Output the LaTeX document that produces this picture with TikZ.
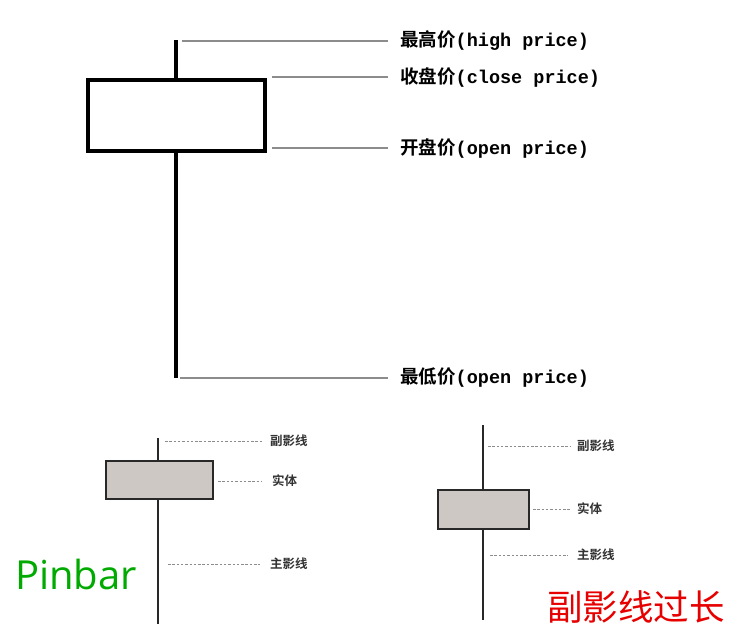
\documentclass[tikz,border=0pt]{standalone}
\usepackage{fontspec}
\newfontfamily\cjk{Noto Sans CJK SC}
\newfontfamily\cjkb{Noto Sans CJK SC Bold}
\newfontfamily\monof{Liberation Mono}
\newfontfamily\sansf{Open Sans}
\definecolor{leader}{RGB}{140,140,140}
\definecolor{bodyfill}{RGB}{205,200,196}
\definecolor{wick}{RGB}{40,40,40}
\definecolor{pingreen}{RGB}{0,170,0}
\definecolor{warnred}{RGB}{230,0,0}
\begin{document}
\begin{tikzpicture}[x=1pt,y=-1pt,
  bigwick/.style={line width=3.5pt,black},
  bigbody/.style={line width=3.5pt,black,fill=white},
  bigleader/.style={line width=2.5pt,leader},
  biglabel/.style={anchor=west,inner sep=0pt,font=\fontsize{18.5}{20}\selectfont},
  smallwick/.style={line width=2pt,wick},
  smallbody/.style={line width=1.8pt,wick,fill=bodyfill},
  dashleader/.style={line width=1pt,leader,dash pattern=on 2.5pt off 1.8pt},
  smalllabel/.style={anchor=west,inner sep=0pt,font=\cjkb\fontsize{12.5}{14}\selectfont,text=black!80}]
\useasboundingbox (0,0) rectangle (754,638);
% ---- top candlestick ----
\coordinate (hiT) at (176,40);
\coordinate (loT) at (176,378);
\draw[bigwick] (hiT) -- (loT);
\node[draw,bigbody,minimum width=177pt,minimum height=71pt,anchor=north west,inner sep=0pt] (bodyT) at (86,78) {};
\node[biglabel] (lhigh) at (400,41) {{\cjkb 最高价}{\monof\bfseries (high price)}};
\node[biglabel] (lclose) at (400,77) {{\cjkb 收盘价}{\monof\bfseries (close price)}};
\node[biglabel] (lopen) at (400,148) {{\cjkb 开盘价}{\monof\bfseries (open price)}};
\node[biglabel] (llow) at (400,378) {{\cjkb 最低价}{\monof\bfseries (open price)}};
\coordinate (chigh) at (182,41);
\coordinate (cclose) at (272,77);
\coordinate (copen) at (272,148);
\coordinate (clow) at (180,378);
\draw[bigleader] (chigh) -- (lhigh.west -| 388,0);
\draw[bigleader] (cclose) -- (lclose.west -| 388,0);
\draw[bigleader] (copen) -- (lopen.west -| 388,0);
\draw[bigleader] (clow) -- (llow.west -| 388,0);
% ---- bottom-left candlestick ----
\coordinate (hiL) at (158,438);
\coordinate (loL) at (158,624);
\draw[smallwick] (hiL) -- (loL);
\node[draw,smallbody,minimum width=107pt,minimum height=38pt,anchor=north west,inner sep=0pt] (bodyL) at (105,460) {};
\node[smalllabel] (l1) at (270,441) {副影线};
\node[smalllabel] (l2) at (272,481) {实体};
\node[smalllabel] (l3) at (270,564) {主影线};
\coordinate (d1) at (165,441);
\coordinate (d2) at (218,481);
\coordinate (d3) at (168,564);
\draw[dashleader] (d1) -- (262,441);
\draw[dashleader] (d2) -- (262,481);
\draw[dashleader] (d3) -- (260,564);
\node[anchor=west,inner sep=0pt,font=\sansf\fontsize{40}{44}\selectfont,text=pingreen] (pin) at (15,574) {Pinbar};
% ---- bottom-right candlestick ----
\coordinate (hiR) at (483,425);
\coordinate (loR) at (483,620);
\draw[smallwick] (hiR) -- (loR);
\node[draw,smallbody,minimum width=91pt,minimum height=39pt,anchor=north west,inner sep=0pt] (bodyR) at (437,489) {};
\node[smalllabel] (r1) at (577,446) {副影线};
\node[smalllabel] (r2) at (577,509) {实体};
\node[smalllabel] (r3) at (577,555) {主影线};
\coordinate (e1) at (488,446);
\coordinate (e2) at (533,509);
\coordinate (e3) at (490,555);
\draw[dashleader] (e1) -- (571,446);
\draw[dashleader] (e2) -- (570,509);
\draw[dashleader] (e3) -- (568,555);
\node[anchor=west,inner sep=0pt,font=\cjk\fontsize{35.5}{38}\selectfont,text=warnred] (warn) at (547,607) {副影线过长};
\end{tikzpicture}
\end{document}
